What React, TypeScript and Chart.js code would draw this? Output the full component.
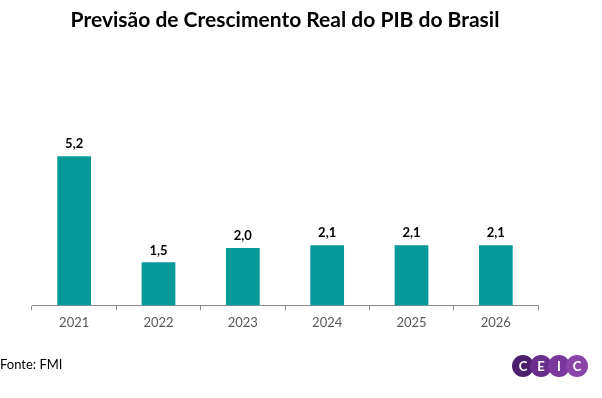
import React, { useEffect, useRef } from "react";
import { Chart, registerables } from "chart.js";

Chart.register(...registerables);

const categories = ["2021", "2022", "2023", "2024", "2025", "2026"];
const values = [5.2, 1.5, 2.0, 2.1, 2.1, 2.1];
const valueLabels = ["5,2", "1,5", "2,0", "2,1", "2,1", "2,1"];
const titleText = "Previsão de Crescimento Real do PIB do Brasil";
const sourceText = "Fonte: FMI";
const logoLetters = ["C", "E", "I", "C"];

const FONT = "Lato, 'Open Sans', sans-serif";

const dataLabelPlugin = {
  id: "dataLabels",
  afterDatasetsDraw(chart: any) {
    const ctx = chart.ctx;
    const meta = chart.getDatasetMeta(0);
    ctx.save();
    ctx.font = `bold 13px ${FONT}`;
    ctx.fillStyle = "#000000";
    ctx.textAlign = "center";
    ctx.textBaseline = "middle";
    meta.data.forEach((bar: any, i: number) => {
      ctx.fillText(valueLabels[i], bar.x, bar.y - 12);
    });
    ctx.restore();
  },
};

export default function App() {
  const ref = useRef<HTMLCanvasElement>(null);
  useEffect(() => {
    if (!ref.current) return;
    const chart = new Chart(ref.current, {
      type: "bar",
      data: {
        labels: categories,
        datasets: [
          {
            data: values,
            backgroundColor: "#079a99",
            categoryPercentage: 1,
            barPercentage: 0.4,
          },
        ],
      },
      options: {
        animation: false,
        responsive: false,
        layout: { padding: { left: 32, right: 64, top: 0, bottom: 62 } },
        plugins: {
          legend: { display: false },
          tooltip: { enabled: false },
          title: {
            display: true,
            text: titleText,
            fullSize: false,
            color: "#000000",
            font: { family: FONT, size: 21, weight: "bold" },
            padding: { top: 8, bottom: 100 },
          },
        },
        scales: {
          x: {
            grid: {
              display: true,
              drawOnChartArea: false,
              drawTicks: true,
              tickLength: 5,
              color: "#8c8c8c",
              offset: true,
            },
            border: { display: true, color: "#8c8c8c" },
            ticks: {
              color: "#595959",
              font: { family: FONT, size: 13 },
              padding: 5,
            },
          },
          y: {
            display: false,
            min: 0,
            max: 6,
          },
        },
      },
      plugins: [dataLabelPlugin],
    });
    return () => chart.destroy();
  }, []);

  const circleColors = ["#4c1f6c", "#692d8c", "#7a389c", "#8b45a9"];

  return (
    <div style={{ position: "fixed", left: 0, top: 0, width: 602, height: 398, background: "#ffffff" }}>
      <canvas ref={ref} width={602} height={398} style={{ position: "absolute", left: 0, top: 0 }} />
      <div
        style={{
          position: "absolute",
          left: 0,
          top: 356,
          fontFamily: FONT,
          fontSize: 13,
          color: "#000000",
          lineHeight: "16px",
        }}
      >
        {sourceText}
      </div>
      <div style={{ position: "absolute", left: 512, top: 355, height: 22, width: 78 }}>
        {logoLetters.map((l, i) => (
          <div
            key={i}
            style={{
              position: "absolute",
              left: i * 18,
              top: 0,
              width: 22,
              height: 22,
              borderRadius: "50%",
              background: circleColors[i],
              color: "#ffffff",
              fontFamily: FONT,
              fontWeight: "bold",
              fontSize: 13,
              lineHeight: "22px",
              textAlign: "center",
            }}
          >
            {l}
          </div>
        ))}
      </div>
    </div>
  );
}
